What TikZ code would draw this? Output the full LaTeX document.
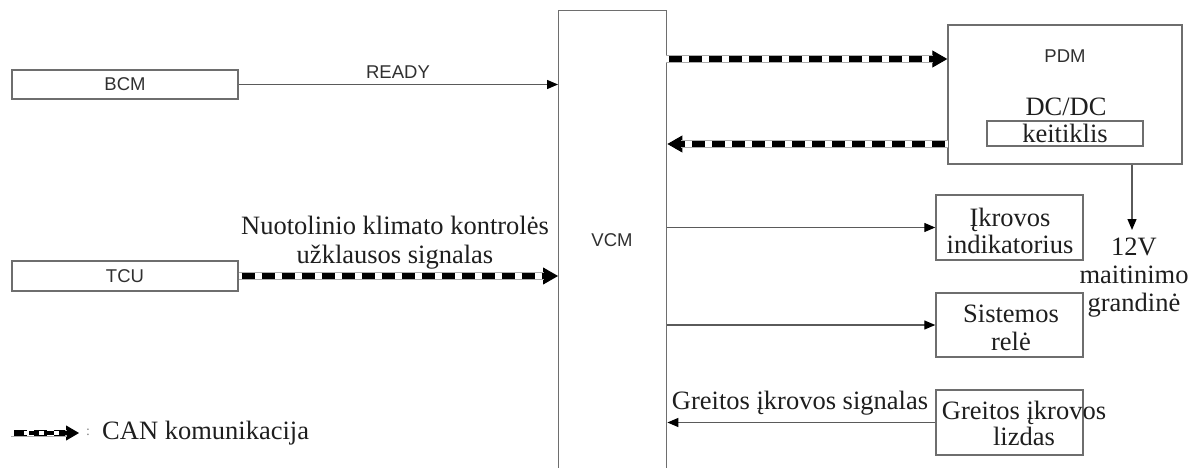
\documentclass[tikz,border=0pt]{standalone}
\usepackage{fontspec}
\setmainfont{Liberation Serif}
\newfontfamily\arialfont{Liberation Sans}
\usetikzlibrary{arrows.meta}
\definecolor{boxgray}{HTML}{6E6E6E}
\definecolor{linegray}{HTML}{5A5A5A}
\definecolor{txt}{HTML}{1E1E1E}
\definecolor{sanstxt}{HTML}{303030}
\begin{document}
\begin{tikzpicture}[x=1pt,y=-1pt,
  box/.style={draw=boxgray, line width=1.4pt, inner sep=0pt},
  sanslbl/.style={font=\arialfont\fontsize{18.5}{20}\selectfont, text=sanstxt, inner sep=0pt},
  seriflbl/.style={font=\fontsize{26.5}{28}\selectfont, text=txt, align=center, inner sep=0pt},
  sig/.style={draw=linegray, line width=1.3pt, -{Triangle[length=11pt,width=9pt,color=black]}},
  canhead/.style={draw=black, line width=1pt, -{Triangle[length=15pt,width=17pt]}},
  canbody/.style={draw=gray!65, line width=8pt, shorten >=14pt,
    postaction={draw=white, line width=5.4pt, shorten >=14pt},
    postaction={draw=black, line width=5.4pt, shorten >=14pt, dash pattern=on 13pt off 7pt, dash phase=17pt}}
]
\useasboundingbox (0,0) rectangle (1191,468);

% modules on the left
\node[box, minimum width=226pt, minimum height=29pt, sanslbl] (bcm) at (125,84.5) {BCM};
\node[box, minimum width=226pt, minimum height=30pt, sanslbl] (tcu) at (125,276) {TCU};

% central vehicle control module (runs past the lower edge)
\node[box, minimum width=108pt, minimum height=500pt, anchor=north west] (vcm) at (558,10) {};
\node[sanslbl] (vcmlbl) at (612,240) {VCM};

% power delivery module with DC/DC converter
\node[box, minimum width=234pt, minimum height=139pt] (pdm) at (1065,94.5) {};
\node[sanslbl] (pdmlbl) at (1065,56) {PDM};
\node[seriflbl] (dcdc) at (1066,107) {DC/DC};
\node[box, minimum width=156pt, minimum height=25pt, seriflbl] (keit) at (1065,133.5) {keitiklis};

% outputs and inputs on the right
\node[box, minimum width=147pt, minimum height=65pt] (ind) at (1009.5,227.5) {};
\node[seriflbl, font=\fontsize{26.5}{27}\selectfont] (indlbl) at (1010,231) {Įkrovos\\indikatorius};
\node[box, minimum width=147pt, minimum height=64pt] (rele) at (1009.5,325) {};
\node[seriflbl] (relelbl) at (1011,328) {Sistemos\\relė};
\node[box, minimum width=147pt, minimum height=65pt] (lizd) at (1009.5,422.5) {};
\node[seriflbl, font=\fontsize{26.5}{26}\selectfont] (lizdlbl) at (1024,423) {Greitos įkrovos\\lizdas};

\node[seriflbl] (v12) at (1134,278) {12V\\maitinimo\\grandinė};
\coordinate (v12tip) at (1132,230);

% signal lines
\draw[sig] (bcm.east) -- (bcm.east -| vcm.west);
\node[sanslbl] (ready) at (398,72) {READY};

\draw[canhead] (tcu.east) -- (tcu.east -| vcm.west);
\draw[canbody] (tcu.east) -- (tcu.east -| vcm.west);
\node[seriflbl, font=\fontsize{26.5}{29}\selectfont] (nuot) at (395,243) {Nuotolinio klimato kontrolės\\užklausos signalas};

\coordinate (ctop) at (666,59);
\coordinate (cbot) at (948,144);
\draw[canhead] (ctop) -- (ctop -| pdm.west);
\draw[canbody] (ctop) -- (ctop -| pdm.west);
\draw[canhead] (cbot) -- (cbot -| vcm.east);
\draw[canbody] (cbot) -- (cbot -| vcm.east);

\draw[sig] (pdm.south -| v12tip) -- (v12tip);

\draw[sig] (ind.west -| vcm.east) -- (ind.west);
\draw[sig] (rele.west -| vcm.east) -- (rele.west);
\draw[sig] (lizd.west) -- (lizd.west -| vcm.east);
\node[seriflbl] (gsig) at (800,403) {Greitos įkrovos signalas};

% legend
\coordinate (lgs) at (11,433);
\coordinate (lge) at (79,433);
\draw[canhead, -{Triangle[length=13pt,width=15pt]}] (lgs) -- (lge);
\draw[canbody, line width=7pt, shorten >=12pt,
  postaction={draw=white, line width=4.6pt, shorten >=12pt},
  postaction={draw=black, line width=4.6pt, shorten >=12pt, dash pattern=on 10pt off 5pt, dash phase=12pt}] (lgs) -- (lge);
\node[text=gray, font=\fontsize{14}{16}\selectfont, inner sep=0pt] (colon) at (88,432) {:};
\node[seriflbl, anchor=west] (canlbl) at (102,433) {CAN komunikacija};
\end{tikzpicture}
\end{document}
